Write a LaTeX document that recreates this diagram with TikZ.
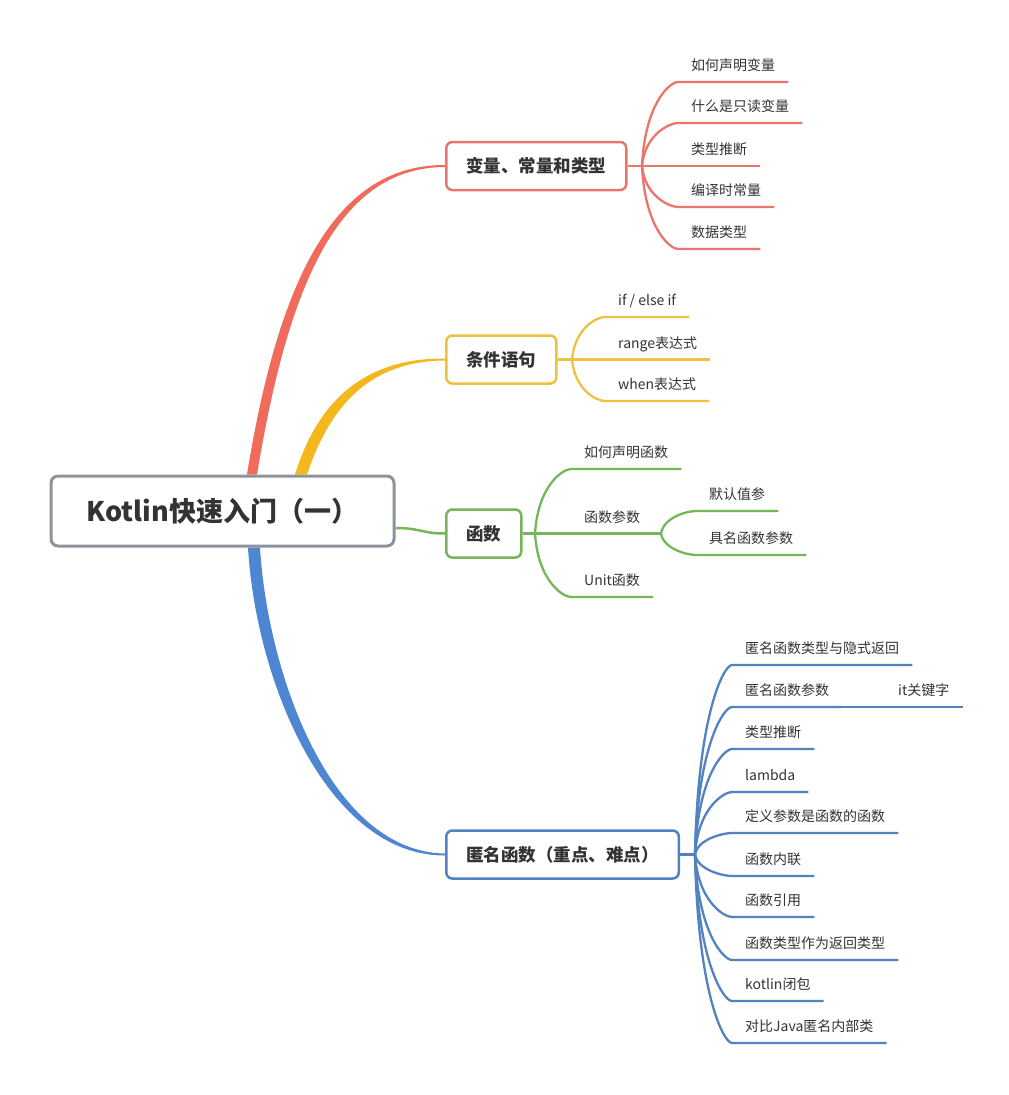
\documentclass[tikz,border=0pt]{standalone}
\usepackage{fontspec}
\setmainfont{Noto Sans CJK SC}
\usetikzlibrary{backgrounds}

\definecolor{inkc}{HTML}{333333}
\definecolor{rootc}{HTML}{8E939B}
\definecolor{redc}{HTML}{E8766C}
\definecolor{redmain}{HTML}{F06B5C}
\definecolor{yellowc}{HTML}{EDC23F}
\definecolor{yellowmain}{HTML}{F4B81E}
\definecolor{greenc}{HTML}{74B658}
\definecolor{bluec}{HTML}{5283C0}
\definecolor{bluemain}{HTML}{4F86D1}

\tikzset{
  topic/.style={draw=#1, line width=2.5pt, rounded corners=6pt, fill=white,
    minimum height=48pt, inner xsep=20pt, anchor=west, text=inkc,
    font=\fontsize{17.5}{20}\selectfont\bfseries},
  leaf/.style={anchor=south west, inner xsep=13pt, inner ysep=8pt,
    text height=11pt, text depth=3pt, text=inkc,
    font=\fontsize{14}{16}\selectfont},
  twig/.style={draw=#1, line width=2.3pt},
}

\begin{document}
\begin{tikzpicture}[x=1pt, y=-1pt]
  \useasboundingbox (0,0) rectangle (1009,1095);

  % centre and main topics
  \node[draw=rootc, line width=3pt, rounded corners=7pt, fill=white,
    minimum width=343pt, minimum height=70pt, text=inkc,
    font=\fontsize{27}{30}\selectfont\bfseries] (root) at (222.5,511) {Kotlin快速入门（一）};
  \node[topic=redc] (var) at (445,166) {变量、常量和类型};
  \node[topic=yellowc] (cond) at (445,359.5) {条件语句};
  \node[topic=greenc] (fn) at (445,533.5) {函数};
  \node[topic=bluec] (anon) at (445,854.5) {匿名函数（重点、难点）};

  % tapered branches from the centre
  \begin{scope}[on background layer]
    \fill[redmain] ([xshift=24.5pt]root.north) .. controls (278,283) and (333,164.5) .. ([yshift=1pt]var.west)
      -- ([yshift=-1pt]var.west) .. controls (337,167.5) and (288,287) .. ([xshift=34.5pt]root.north) -- cycle;
    \fill[yellowmain] ([xshift=72.5pt]root.north) .. controls (319,397) and (368,358) .. ([yshift=1pt]cond.west)
      -- ([yshift=-1pt]cond.west) .. controls (372,361) and (331,403) .. ([xshift=84.5pt]root.north) -- cycle;
    \fill[bluemain] ([xshift=25.5pt]root.south) .. controls (256,683) and (328,856) .. ([yshift=-1pt]anon.west)
      -- ([yshift=1pt]anon.west) .. controls (332,852) and (268,677) .. ([xshift=37.5pt]root.south) -- cycle;
    \draw[greenc, line width=2.5pt] ([yshift=-17pt]root.east) .. controls (420,528) and (422,533.5) .. (fn.west);
  \end{scope}

  % variables
  \coordinate (j1) at (642,166);
  \draw[twig=redc] (var.east) -- (j1);
  \foreach \nm/\yy/\txt in {v1/82/如何声明变量, v2/123/什么是只读变量, v3/166/类型推断,
                            v4/207/编译时常量, v5/249/数据类型}{
    \node[leaf] (\nm) at (678,\yy) {\txt};
    \draw[twig=redc] (j1) .. controls (645,{166+0.75*(\yy-166)}) and (670,\yy) .. (\nm.south west) -- (\nm.south east);
  }

  % conditions
  \coordinate (j2) at (572,359.5);
  \draw[twig=yellowc] (cond.east) -- (j2);
  \foreach \nm/\yy/\txt in {c1/317/{if / else if}, c2/359.5/range表达式, c3/401/when表达式}{
    \node[leaf] (\nm) at (605,\yy) {\txt};
    \draw[twig=yellowc] (j2) .. controls (575,{359.5+0.75*(\yy-359.5)}) and (597,\yy) .. (\nm.south west) -- (\nm.south east);
  }

  % functions
  \coordinate (j3) at (535,533.5);
  \draw[twig=greenc] (fn.east) -- (j3);
  \foreach \nm/\yy/\txt in {f1/469/如何声明函数, f2/533.5/函数参数, f3/597/Unit函数}{
    \node[leaf] (\nm) at (571,\yy) {\txt};
    \draw[twig=greenc] (j3) .. controls (538,{533.5+0.75*(\yy-533.5)}) and (563,\yy) .. (\nm.south west) -- (\nm.south east);
  }
  \coordinate (j3b) at (661,533.5);
  \draw[twig=greenc] (f2.south east) -- (j3b);
  \foreach \nm/\yy/\txt in {g1/511/默认值参, g2/555/具名函数参数}{
    \node[leaf] (\nm) at (696,\yy) {\txt};
    \draw[twig=greenc] (j3b) .. controls (664,{533.5+0.75*(\yy-533.5)}) and (688,\yy) .. (\nm.south west) -- (\nm.south east);
  }

  % anonymous functions
  \coordinate (j4) at (695,854.5);
  \draw[twig=bluec] (anon.east) -- (j4);
  \foreach \nm/\yy/\txt in {a1/665/匿名函数类型与隐式返回, a2/707/匿名函数参数, a3/749/类型推断,
                            a4/792/lambda, a5/833/定义参数是函数的函数, a6/876/函数内联,
                            a7/917/函数引用, a8/960/函数类型作为返回类型, a9/1001/kotlin闭包,
                            a10/1043/对比Java匿名内部类}{
    \node[leaf] (\nm) at (732,\yy) {\txt};
    \draw[twig=bluec] (j4) .. controls (698,{854.5+0.75*(\yy-854.5)}) and (724,\yy) .. (\nm.south west) -- (\nm.south east);
  }
  \node[leaf] (itkw) at (885,707) {it关键字};
  \draw[twig=bluec] (a2.south east) -- (itkw.south west) -- (itkw.south east);
\end{tikzpicture}
\end{document}
